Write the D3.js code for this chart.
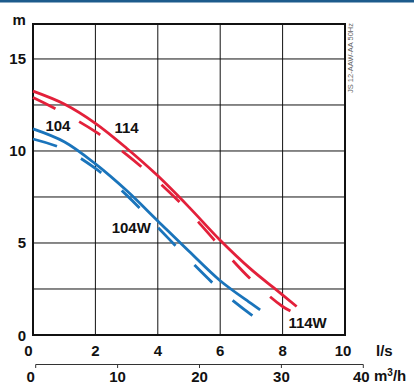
<!DOCTYPE html>
<html><head><meta charset="utf-8">
<script src="https://cdn.jsdelivr.net/npm/d3@7"></script>
<style>
html,body{margin:0;padding:0;background:#fff;}
svg{display:block;font-family:"Liberation Sans",Arial,Helvetica,sans-serif;}
</style></head>
<body><svg id="c" width="414" height="385"></svg>
<script>
// ---- data ----
const xTicksLs = [0, 2, 4, 6, 8, 10];
const xGridLs = [2, 4, 6, 8];
const yTicks = [0, 5, 10, 15];
const yGrid = [2.5, 5, 7.5, 10, 12.5, 15];
const m3hTicks = [0, 10, 20, 30, 40];

const q114 = [0, 1, 2, 3, 4, 5, 6, 7, 7.8, 8.45];
const h114 = [13.25, 12.55, 11.5, 10.15, 8.65, 6.95, 5.15, 3.55, 2.45, 1.55];
const q114W = [0, 1, 2, 3, 4, 5, 6, 7, 8, 8.5];
const h114W = [12.9, 12.05, 11.05, 9.8, 8.35, 6.7, 4.8, 3.0, 1.55, 1.09];
const q104 = [0, 1, 2, 3, 4, 5, 6, 7, 7.28];
const h104 = [11.2, 10.5, 9.3, 7.85, 6.2, 4.55, 2.95, 1.7, 1.36];
const q104W = [0, 1, 2, 3, 4, 5, 6, 7, 7.22];
const h104W = [10.65, 10.1, 9.05, 7.6, 5.85, 4.1, 2.45, 1.1, 0.85];

const seriesNames = ["114", "114W", "104", "104W"];
const labelPos = [[3.0, 11.3], [8.8, 0.7], [0.8, 11.4], [3.15, 5.85]]; // in data units (l/s, m)

const RED = "#e3203a", BLUE = "#1a74bb";

// ---- chart ----
const svg = d3.select("#c");
const x = d3.scaleLinear().domain([0, 10]).range([33, 345]);
const y = d3.scaleLinear().domain([0, 16.9]).range([335, 24]);
const xm = d3.scaleLinear().domain([0, 40]).range([35.7, 363.3]);

// top band
svg.append("rect").attr("x", 0).attr("y", 0).attr("width", 414).attr("height", 2.5).attr("fill", "#1d5b8c");

// grid
svg.append("g").selectAll("line").data(xGridLs).join("line")
  .attr("x1", d => x(d)).attr("x2", d => x(d)).attr("y1", y(16.9)).attr("y2", y(0))
  .attr("stroke", "#111").attr("stroke-width", 1);
svg.append("g").selectAll("line").data(yGrid).join("line")
  .attr("x1", x(0)).attr("x2", x(10)).attr("y1", d => y(d)).attr("y2", d => y(d))
  .attr("stroke", "#111").attr("stroke-width", 1);

// frame
svg.append("rect").attr("x", x(0)).attr("y", y(16.9)).attr("width", x(10) - x(0)).attr("height", y(0) - y(16.9))
  .attr("fill", "none").attr("stroke", "#111").attr("stroke-width", 2);

// curves
const line = d3.line().x(d => x(d[0])).y(d => y(d[1])).curve(d3.curveCatmullRom.alpha(0.5));
const series = [
  {q: q114, h: h114, color: RED, dash: null},
  {q: q114W, h: h114W, color: RED, dash: "25,27"},
  {q: q104, h: h104, color: BLUE, dash: null},
  {q: q104W, h: h104W, color: BLUE, dash: "25,27"}
];
series.forEach(s => {
  svg.append("path").datum(s.q.map((v, i) => [v, s.h[i]]))
    .attr("d", line).attr("fill", "none").attr("stroke", s.color)
    .attr("stroke-width", 2.8).attr("stroke-dasharray", s.dash);
});

// series labels
svg.append("g").selectAll("text").data(seriesNames).join("text")
  .attr("x", (d, i) => x(labelPos[i][0])).attr("y", (d, i) => y(labelPos[i][1]))
  .attr("text-anchor", "middle").attr("dominant-baseline", "central")
  .attr("font-size", 15).attr("font-weight", "bold").attr("fill", "#111").text(d => d);

// y tick labels
svg.append("g").selectAll("text").data(yTicks).join("text")
  .attr("x", 26).attr("y", d => y(d)).attr("text-anchor", "end").attr("dominant-baseline", "central")
  .attr("font-size", 15).attr("font-weight", "bold").attr("fill", "#111").text(d => d);
svg.append("text").attr("x", 12.5).attr("y", 25).attr("font-size", 15).attr("font-weight", "bold").attr("fill", "#111").text("m");

// x tick labels (l/s)
svg.append("g").selectAll("text").data(xTicksLs).join("text")
  .attr("x", d => x(d) + (d === 0 ? -4.5 : d === 10 ? -2 : 0)).attr("y", 356)
  .attr("text-anchor", "middle").attr("font-size", 15).attr("font-weight", "bold").attr("fill", "#111").text(d => d);
svg.append("text").attr("x", 376).attr("y", 356).attr("font-size", 15).attr("font-weight", "bold").attr("fill", "#111").text("l/s");

// secondary axis m3/h
const ax = svg.append("g").attr("transform", "translate(0,364.5)");
ax.append("line").attr("x1", xm(0)).attr("x2", xm(40)).attr("stroke", "#333").attr("stroke-width", 1);
ax.selectAll("line.t").data(m3hTicks).join("line").attr("class", "t")
  .attr("x1", d => xm(d)).attr("x2", d => xm(d)).attr("y1", 0).attr("y2", 3.5).attr("stroke", "#333");
svg.append("g").selectAll("text").data(m3hTicks).join("text")
  .attr("x", d => xm(d) + (d === 0 ? -5 : d === 40 ? -2 : 0)).attr("y", 382)
  .attr("text-anchor", "middle").attr("font-size", 15).attr("font-weight", "bold").attr("fill", "#111").text(d => d);
const mt = svg.append("text").attr("x", 374).attr("y", 381).attr("font-size", 15).attr("font-weight", "bold").attr("fill", "#111");
mt.append("tspan").text("m");
mt.append("tspan").attr("dy", -5).attr("font-size", 10).text("3");
mt.append("tspan").attr("dy", 5).text("/h");

// vertical code text
svg.append("text").attr("transform", "translate(353,58) rotate(-90)")
  .attr("text-anchor", "middle").attr("font-size", 7.5).attr("fill", "#666").text("JS 12-AAW-AA 50Hz");
</script></body></html>
